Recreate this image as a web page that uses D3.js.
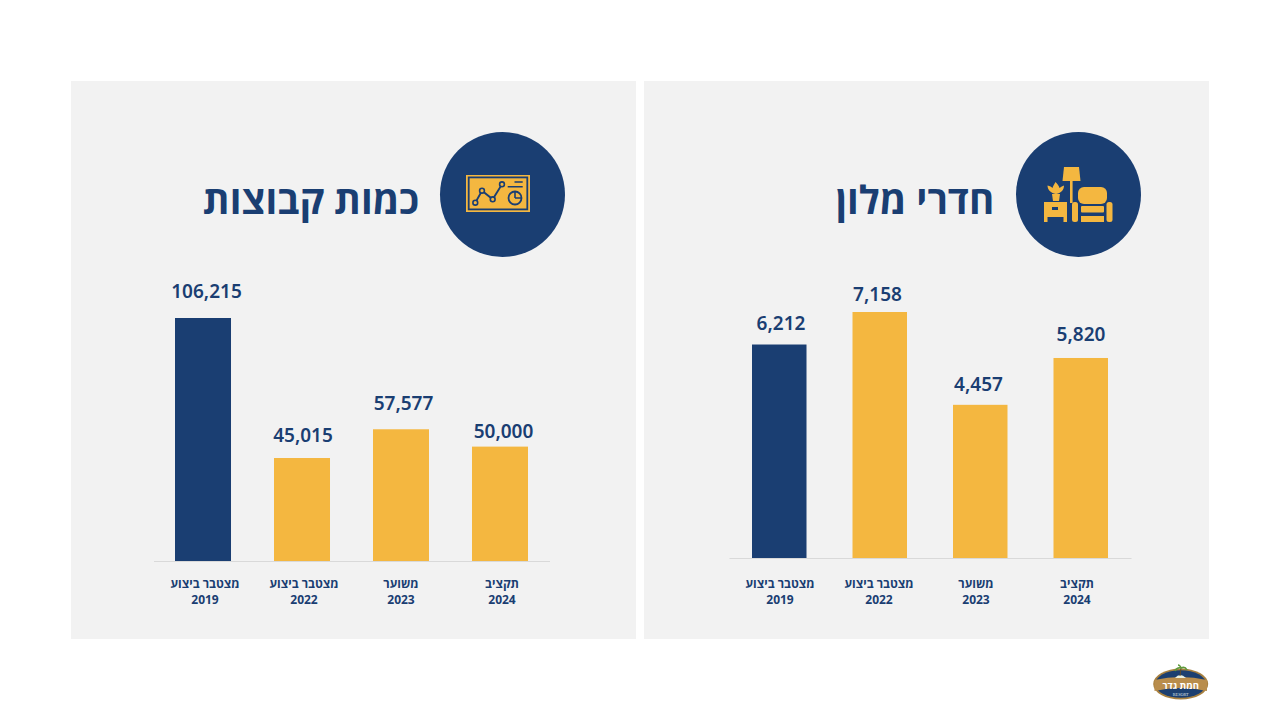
<!DOCTYPE html>
<html lang="he"><head><meta charset="utf-8">
<script src="https://cdnjs.cloudflare.com/ajax/libs/d3/7.8.5/d3.min.js"></script>
<style>
html,body{margin:0;padding:0;background:#fff;overflow:hidden}
svg{display:block}
text{font-family:"Open Sans","Noto Sans",sans-serif}
</style></head><body>
<svg id="c" width="1280" height="720"></svg>
<script>
const categoryLines = [["מצטבר ביצוע","2019"],["מצטבר ביצוע","2022"],["משוער","2023"],["תקציב","2024"]];
const categoryKeys = ["2019","2022","2023","2024"];
const groupValues = [106215,45015,57577,50000];
const roomValues = [6212,7158,4457,5820];
const groupTitle = "כמות קבוצות";
const roomTitle = "חדרי מלון";
const NAVY="#1a3e72", GOLD="#f4b740", BG="#f2f2f2";
const svg=d3.select("#c");

function panel(o){
  const g=svg.append("g");
  g.append("rect").attr("x",o.px).attr("y",81).attr("width",565).attr("height",558).attr("fill",BG);
  g.append("circle").attr("cx",o.cx).attr("cy",194.5).attr("r",62.5).attr("fill",NAVY);
  g.append("text").attr("x",o.titleX).attr("y",213.5).attr("text-anchor","middle")
    .attr("font-size",o.titleSize).attr("font-weight",700).attr("fill",NAVY).text(o.title);
  const x=d3.scaleBand().domain(categoryKeys).range(o.xr).paddingInner(o.pad).paddingOuter(o.outer);
  const y=d3.scaleLinear().domain([0,o.max]).range([o.base,o.top]);
  const ax=g.append("g").attr("transform",`translate(0,${o.base})`).call(d3.axisBottom(x).tickSize(0).tickFormat(""));
  ax.select(".domain").attr("stroke","#d9d9d9").attr("stroke-width",1);
  g.selectAll(".bar").data(o.values).join("rect").attr("class","bar")
    .attr("x",(d,i)=>x(categoryKeys[i])).attr("width",x.bandwidth())
    .attr("y",d=>y(d)).attr("height",d=>o.base-y(d))
    .attr("fill",(d,i)=>i===0?NAVY:GOLD);
  g.selectAll(".val").data(o.values).join("text").attr("class","val")
    .attr("x",(d,i)=>o.valX[i]).attr("y",(d,i)=>y(d)-o.valGap[i])
    .attr("text-anchor","middle").attr("font-size",19).attr("font-weight",600)
    .style("font-family","'Noto Sans',sans-serif")
    .attr("fill",NAVY).text(d3.format(","));
  categoryLines.forEach((ls,i)=>{
    const t=g.append("text").attr("text-anchor","middle").attr("font-size",12).attr("font-weight",700).attr("fill",NAVY);
    ls.forEach((s,k)=>t.append("tspan").attr("x",o.labelX[i]).attr("y",o.labelY+k*16).text(s));
  });
  return g;
}

panel({px:71,cx:502.5,title:groupTitle,titleX:311,titleSize:38.5,xr:[153.5,549.5],pad:0.4343,outer:0.2172,base:561,top:318,max:106215,values:groupValues,valX:[206.5,303,403.5,503.5],valGap:[20,16,19,9],labelX:[205,304,401,502],labelY:588});
panel({px:644,cx:1078.5,title:roomTitle,titleX:915,titleSize:38.5,xr:[729,1131],pad:0.4577,outer:0.2289,base:558,top:312,max:7158,values:roomValues,valX:[781,877.5,978.5,1081],valGap:[15,11,14,17],labelX:[780,879,976,1077],labelY:588});

// furniture icon
const f=svg.append("g").attr("fill",GOLD);
f.append("path").attr("d","M1064 167H1079L1080.5 181H1062.5Z");
f.append("rect").attr("x",1070).attr("y",181).attr("width",2.6).attr("height",22);
f.append("rect").attr("x",1078).attr("y",187).attr("width",29).attr("height",17).attr("rx",6);
f.append("rect").attr("x",1072).attr("y",202).attr("width",6).attr("height",20).attr("rx",2.5);
f.append("rect").attr("x",1106.5).attr("y",202).attr("width",6).attr("height",20).attr("rx",2.5);
f.append("rect").attr("x",1081).attr("y",206).attr("width",23).attr("height",6.5).attr("rx",1);
f.append("rect").attr("x",1081).attr("y",216).attr("width",23).attr("height",6);
f.append("path").attr("d","M1044 202H1067V222H1063.5V217H1047.5V222H1044Z");
f.append("rect").attr("x",1052).attr("y",207).attr("width",6).attr("height",3).attr("fill",NAVY);
f.append("path").attr("d","M1052 194H1060L1059 201H1053Z");
f.append("path").attr("d","M1056 194C1050 193 1047.5 189 1047.5 185.5C1050 186 1051.5 187 1052.5 188C1053 186 1054.5 184 1055.5 182C1057.5 184 1059 186 1059.5 188C1061 187 1062.5 186 1064 185.5C1064 189 1062 193 1056 194Z");

// dashboard icon
const d=svg.append("g");
d.append("rect").attr("x",466).attr("y",175).attr("width",64).attr("height",37).attr("fill",GOLD);
d.append("rect").attr("x",468.7).attr("y",177.4).attr("width",58.6).attr("height",32).attr("fill","none").attr("stroke",NAVY).attr("stroke-width",1.8);
d.append("path").attr("d","M475.3 202.7L482 190.7L492.7 199.3L502 184.3").attr("fill","none").attr("stroke",NAVY).attr("stroke-width",1.8);
[[475.3,202.7],[482,190.7],[492.7,199.3],[502,184.3]].forEach(p=>d.append("circle").attr("cx",p[0]).attr("cy",p[1]).attr("r",2.4).attr("fill",GOLD).attr("stroke",NAVY).attr("stroke-width",1.6));
d.append("circle").attr("cx",515).attr("cy",198).attr("r",6.5).attr("fill",GOLD).attr("stroke",NAVY).attr("stroke-width",1.8);
d.append("path").attr("d","M515 198V191.5M515 198H521.5").attr("stroke",NAVY).attr("stroke-width",1.6);
d.append("path").attr("d","M514.5 182H522.7M507.7 186.7H522.7").attr("stroke",NAVY).attr("stroke-width",1.5);

// resort logo
const l=svg.append("g");
l.append("ellipse").attr("cx",1180.7).attr("cy",684).attr("rx",27.5).attr("ry",15.5).attr("fill","#a8803f");
l.append("ellipse").attr("cx",1180.7).attr("cy",684).attr("rx",25.5).attr("ry",13.8).attr("fill","#1c3f70");
l.append("path").attr("d","M1154.5 680Q1180.7 674 1207 680V691Q1180.7 685 1154.5 691Z").attr("fill","#b98d4c");
l.append("path").attr("d","M1175 678Q1180 672 1186 678Z").attr("fill","#e9efe0");
l.append("path").attr("d","M1180 676L1181 668").attr("stroke","#5b4a2a").attr("stroke-width",1);
l.append("path").attr("d","M1181 668Q1177 667 1175 671M1181 668Q1185 666 1187 670M1181 668Q1180 665 1178 665").attr("fill","none").attr("stroke","#5f9a3c").attr("stroke-width",1.6);
l.append("text").attr("x",1180.7).attr("y",688.5).attr("text-anchor","middle").attr("font-size",9.5).attr("font-weight",700).attr("fill","#fff").text("חמת גדר");
l.append("text").attr("x",1180.7).attr("y",695.5).attr("text-anchor","middle").attr("font-size",4.2).attr("fill","#dfe3ea").style("font-family","'Liberation Serif',serif").text("RESORT");
</script></body></html>
